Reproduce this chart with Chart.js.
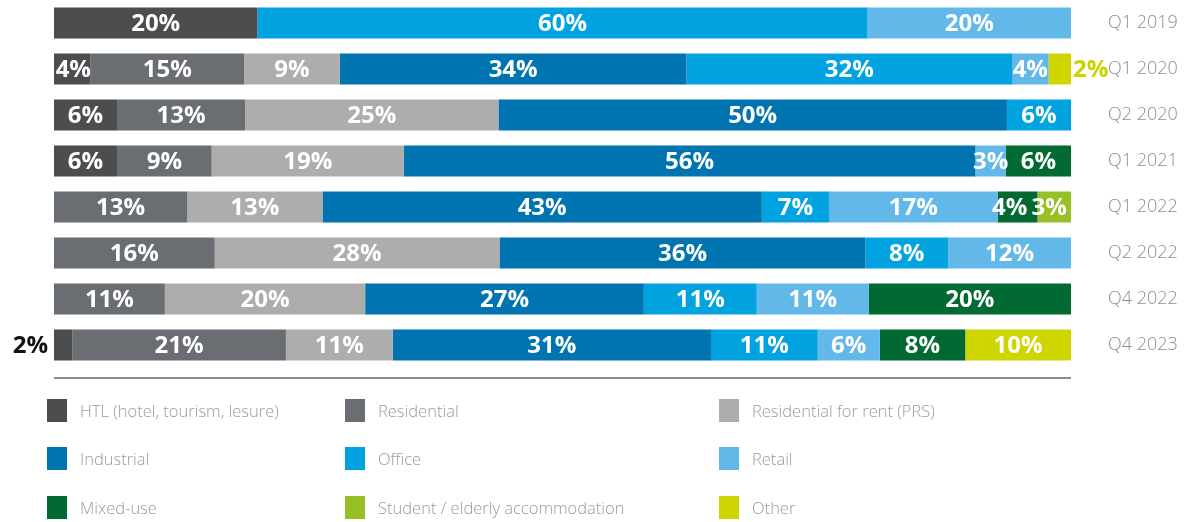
<!DOCTYPE html>
<html>
<head>
<meta charset="utf-8">
<script src="https://cdn.jsdelivr.net/npm/chart.js@4.4.1/dist/chart.umd.min.js"></script>
<style>
  html,body{margin:0;padding:0;background:#fff;overflow:hidden;}
  #wrap{position:relative;width:1202px;height:522px;}
  #c{position:absolute;left:0;top:0;}
  .lg{position:absolute;display:flex;align-items:center;font-family:"Open Sans",sans-serif;font-weight:300;font-size:16.5px;color:#9a9a9a;white-space:nowrap;}
  .lg span.sw{display:inline-block;width:20px;height:23px;margin-right:13px;}
</style>
</head>
<body>
<div id="wrap">
  <canvas id="c" width="1202" height="522"></canvas>
  <div id="legend"></div>
</div>
<script>
// ---- Data (shares in %; labels are the rounded values) ----
const categories = ['Q1 2019','Q1 2020','Q2 2020','Q1 2021','Q1 2022','Q2 2022','Q4 2022','Q4 2023'];
const seriesNames = ['HTL (hotel, tourism, lesure)','Residential','Residential for rent (PRS)','Industrial','Office','Retail','Mixed-use','Student / elderly accommodation','Other'];
const htl         = [20,  3.6,  6.2,  6.2,  0,    0,    0,    1.8];
const residential = [0,  15.1, 12.6,  9.3, 13.1, 15.8, 10.9, 21.0];
const prs         = [0,   9.4, 24.9, 18.9, 13.3, 28.0, 19.7, 10.5];
const industrial  = [0,  34.1, 50.0, 56.2, 43.2, 36.0, 27.4, 31.3];
const office      = [60, 32.0,  6.3,  0,    6.6,  8.1, 11.1, 10.5];
const retail      = [20,  3.6,  0,    3.0, 16.6, 12.1, 11.0,  6.1];
const mixedUse    = [0,   0,    0,    6.4,  3.9,  0,   19.9,  8.4];
const student     = [0,   0,    0,    0,    3.3,  0,    0,    0];
const other       = [0,   2.2,  0,    0,    0,    0,    0,   10.4];

const seriesValues = [htl, residential, prs, industrial, office, retail, mixedUse, student, other];
const colors = ['#4c4d4f','#6a6d71','#adadad','#0074b1','#00a3e0','#62b8e8','#006a32','#97bf26','#cfd500'];

// label placement exceptions (dataset index : category index)
const labelTweaks = {
  '8:1': {side:'right', color:'#c8d300'},
  '0:7': {side:'left',  color:'#111111'},
  '6:4': {dx:-8},
  '7:4': {dx:-5},
  '0:1': {dx:1}
};

const segLabels = {
  id:'segLabels',
  afterDatasetsDraw(chart){
    const ctx = chart.ctx;
    ctx.save();
    ctx.font = 'bold 24px "Open Sans", sans-serif';
    ctx.textBaseline = 'middle';
    chart.data.datasets.forEach((ds,di)=>{
      const meta = chart.getDatasetMeta(di);
      meta.data.forEach((bar,i)=>{
        const v = ds.data[i];
        if(!v) return;
        const txt = Math.round(v) + '%';
        const o = labelTweaks[di+':'+i] || {};
        const p = bar.getProps(['x','y','base'], true);
        const x0 = Math.min(p.x,p.base), x1 = Math.max(p.x,p.base);
        if(o.side==='right'){
          ctx.textAlign='left'; ctx.fillStyle=o.color;
          ctx.fillText(txt, x1+2, p.y+1);
        } else if(o.side==='left'){
          ctx.textAlign='right'; ctx.fillStyle=o.color;
          ctx.fillText(txt, x0-6, p.y+1);
        } else {
          ctx.textAlign='center'; ctx.fillStyle='#ffffff';
          ctx.fillText(txt, (x0+x1)/2 + (o.dx||0), p.y+1);
        }
      });
    });
    ctx.restore();
  },
  afterDraw(chart){
    const ctx = chart.ctx, a = chart.chartArea;
    ctx.save();
    ctx.strokeStyle = '#8c8c8c';
    ctx.lineWidth = 2;
    ctx.beginPath();
    ctx.moveTo(a.left, a.bottom+10);
    ctx.lineTo(a.right, a.bottom+10);
    ctx.stroke();
    ctx.restore();
  }
};

const chart = new Chart(document.getElementById('c'), {
  type:'bar',
  data:{
    labels: categories,
    datasets: seriesNames.map((n,k)=>({
      label:n, data:seriesValues[k], backgroundColor:colors[k], borderWidth:0,
      categoryPercentage:0.674, barPercentage:1
    }))
  },
  options:{
    indexAxis:'y',
    responsive:false,
    animation:false,
    layout:{padding:{left:54, top:0, bottom:154, right:0}},
    plugins:{legend:{display:false}, tooltip:{enabled:false}},
    scales:{
      x:{stacked:true, min:0, max:100, display:false},
      y:{
        stacked:true, position:'right',
        grid:{display:false, drawTicks:false}, border:{display:false},
        ticks:{color:'#8e8e8e', padding:37, font:{family:'"Open Sans", sans-serif', size:18, weight:300}},
        afterFit(scale){ scale.width = 131; scale.paddingTop = 0; scale.paddingBottom = 0; }
      }
    }
  },
  plugins:[segLabels]
});

// HTML legend (3 columns)
const colX = [47, 345, 719];
const rowY = [399, 447, 496];
const lg = document.getElementById('legend');
chart.data.datasets.forEach((ds,k)=>{
  const d = document.createElement('div');
  d.className='lg';
  d.style.left = colX[k%3]+'px';
  d.style.top = rowY[Math.floor(k/3)]+'px';
  d.style.height='23px';
  d.innerHTML = '<span class="sw" style="background:'+ds.backgroundColor+'"></span><span></span>';
  d.lastChild.textContent = ds.label;
  lg.appendChild(d);
});
</script>
</body>
</html>
